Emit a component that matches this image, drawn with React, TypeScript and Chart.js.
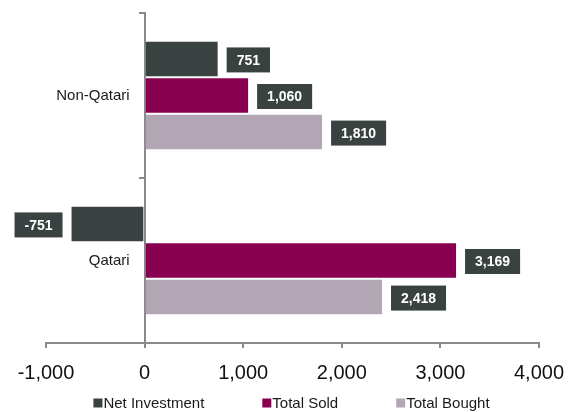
import React, { useEffect, useRef } from "react";
import { Chart, registerables } from "chart.js";

Chart.register(...registerables);

const categories = ["Non-Qatari", "Qatari"];
const seriesNames = ["Net Investment", "Total Sold", "Total Bought"];
const netInvestment = [751, -751];
const totalSold = [1060, 3169];
const totalBought = [1810, 2418];
const seriesColors = ["#3a4241", "#8a0050", "#b2a6b5"];
const xTicks = { min: -1000, max: 4000, step: 1000 };

const FONT = "'Liberation Sans', Arial, sans-serif";

const fmt = (v: number) => v.toLocaleString("en-US");

const dataLabelPlugin = {
  id: "dataLabelBoxes",
  afterDatasetsDraw(chart: any) {
    const ctx = chart.ctx;
    ctx.save();
    ctx.font = `bold 14px ${FONT}`;
    ctx.textAlign = "center";
    ctx.textBaseline = "middle";
    chart.data.datasets.forEach((ds: any, i: number) => {
      const meta = chart.getDatasetMeta(i);
      meta.data.forEach((bar: any, j: number) => {
        const v = ds.data[j];
        const txt = fmt(v);
        const w = ctx.measureText(txt).width + 20;
        const h = 25;
        const gap = 8;
        const left = v >= 0 ? bar.x + gap : bar.x - gap - w;
        const top = bar.y - h / 2 + 1;
        ctx.fillStyle = "#3a4241";
        ctx.fillRect(left, top, w, h);
        ctx.fillStyle = "#ffffff";
        ctx.fillText(txt, left + w / 2, top + h / 2 + 1);
      });
    });
    ctx.restore();
  },
};

const legendPlugin = {
  id: "customLegend",
  afterDraw(chart: any) {
    const ctx = chart.ctx;
    const area = chart.chartArea;
    ctx.save();
    ctx.font = `15px ${FONT}`;
    ctx.textBaseline = "middle";
    ctx.textAlign = "left";
    const box = 9;
    const boxGap = 1;
    const itemGap = 58;
    const items = chart.data.datasets.map((ds: any) => ({
      label: ds.label,
      color: ds.backgroundColor,
      w: box + boxGap + ctx.measureText(ds.label).width,
    }));
    const total = items.reduce((s: number, it: any) => s + it.w, 0) + itemGap * (items.length - 1);
    let x = (area.left + area.right) / 2 - total / 2 - 1;
    const y = 404;
    items.forEach((it: any) => {
      ctx.fillStyle = it.color;
      ctx.fillRect(x, y - box / 2 - 1, box, box);
      ctx.fillStyle = "#1a1a1a";
      ctx.fillText(it.label, x + box + boxGap, y);
      x += it.w + itemGap;
    });
    ctx.restore();
  },
};

export default function App() {
  const ref = useRef<HTMLCanvasElement | null>(null);

  useEffect(() => {
    if (!ref.current) return;
    const values = [netInvestment, totalSold, totalBought];
    const chart = new Chart(ref.current, {
      type: "bar",
      data: {
        labels: categories,
        datasets: seriesNames.map((name, i) => ({
          label: name,
          data: values[i],
          backgroundColor: seriesColors[i],
          borderColor: "rgba(255,255,255,0.35)",
          borderWidth: 1,
          categoryPercentage: 0.665,
          barPercentage: 1,
        })),
      },
      options: {
        indexAxis: "y",
        animation: false,
        responsive: false,
        maintainAspectRatio: false,
        layout: { padding: { top: 13, left: 46, right: 43, bottom: 14 } },
        plugins: {
          legend: { display: false },
          tooltip: { enabled: false },
        },
        scales: {
          x: {
            type: "linear",
            min: xTicks.min,
            max: xTicks.max,
            ticks: {
              stepSize: xTicks.step,
              color: "#111111",
              font: { family: FONT, size: 20 },
              padding: 13,
              callback: (v: any) => fmt(Number(v)),
            },
            grid: {
              drawOnChartArea: false,
              drawTicks: true,
              tickLength: 5,
              color: "#8a8a8a",
              lineWidth: 2,
            },
            border: { display: true, color: "#8a8a8a", width: 2 },
          },
          y: {
            type: "category",
            position: { x: 0 } as any,
            ticks: {
              color: "#1a1a1a",
              font: { family: FONT, size: 15 },
              padding: 0,
              callback: (_v: any, i: number) => categories[i] + "\u2002\u2002",
            },
            grid: {
              drawOnChartArea: false,
              drawTicks: true,
              tickLength: 5,
              offset: true,
              color: "#8a8a8a",
              lineWidth: 2,
            },
            border: { display: true, color: "#8a8a8a", width: 2 },
          },
        },
      },
      plugins: [dataLabelPlugin, legendPlugin],
    });
    return () => chart.destroy();
  }, []);

  return (
    <div style={{ position: "fixed", left: 0, top: 0, width: 582, height: 412, background: "#ffffff" }}>
      <canvas ref={ref} width={582} height={412} style={{ width: 582, height: 412 }} />
    </div>
  );
}
